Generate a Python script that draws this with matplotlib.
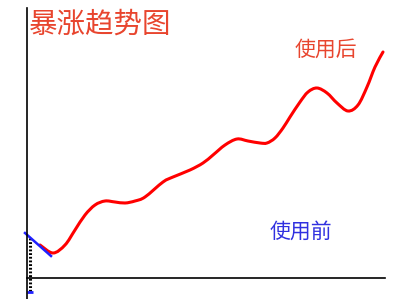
import matplotlib.pyplot as plt
from matplotlib.path import Path
from matplotlib.patches import PathPatch

plt.rcParams['font.family'] = ['Noto Sans CJK SC', 'DejaVu Sans']

# 使用后 (after) curve
after_x = [13, 26, 38, 48, 58, 68, 78, 88, 98, 108, 118, 136, 146, 163, 176, 186,
           198, 210, 221, 233, 240, 248, 256, 263, 273, 281, 290, 300, 310, 321,
           331, 340, 348, 356]
after_y = [33, 25, 33, 48, 63, 73, 77, 76, 75, 77, 81, 96, 101, 108, 115, 123,
           133, 139, 137, 135, 135, 140, 150, 161, 176, 186, 190, 185, 175, 167,
           173, 191, 211, 226]

# 使用前 (before) line
before_x = [-2, 24]
before_y = [45, 22]
mark_x = [3, 3]
mark_y = [40, -14]


def smooth_path(xs, ys):
    # catmull-rom through the points, drawn as cubic bezier pieces
    pts = list(zip(xs, ys))
    verts = [pts[0]]
    codes = [Path.MOVETO]
    for i in range(len(pts) - 1):
        p0 = pts[i - 1] if i > 0 else pts[i]
        p1 = pts[i]
        p2 = pts[i + 1]
        p3 = pts[i + 2] if i + 2 < len(pts) else pts[i + 1]
        c1 = (p1[0] + (p2[0] - p0[0]) / 6, p1[1] + (p2[1] - p0[1]) / 6)
        c2 = (p2[0] - (p3[0] - p1[0]) / 6, p2[1] - (p3[1] - p1[1]) / 6)
        verts += [c1, c2, p2]
        codes += [Path.CURVE4] * 3
    return Path(verts, codes)


fig = plt.figure(figsize=(4.12, 2.99), dpi=100)
ax = fig.add_axes([0, 0, 1, 1])
ax.set_xlim(-27, 385)
ax.set_ylim(-21, 278)

ax.add_patch(PathPatch(smooth_path(after_x, after_y), facecolor='none',
                       edgecolor='#ff0000', lw=2.2, capstyle='round'))
ax.plot(mark_x, mark_y, color='black', lw=2.2, ls=(0, (0.6, 0.6)))
ax.plot([mark_x[1]], [mark_y[1]], marker='_', color='#2020ff', ms=4, mew=2)
ax.plot(before_x, before_y, color='#2020ff', lw=1.8)

for s in ['top', 'right']:
    ax.spines[s].set_visible(False)
ax.spines['left'].set_position(('data', 0))
ax.spines['bottom'].set_position(('data', 0))
ax.spines['left'].set_bounds(-21, 270)
ax.spines['bottom'].set_bounds(0, 358)
ax.spines['left'].set_linewidth(1.2)
ax.spines['bottom'].set_linewidth(1.2)
ax.set_xticks([])
ax.set_yticks([])
ax.patch.set_alpha(0)

fig.text(29 / 412, 1 - 25 / 299, '暴涨趋势图', color='#e8452e', fontsize=20.5,
         ha='left', va='center')
fig.text(326 / 412, 1 - 50 / 299, '使用后', color='#e8452e', fontsize=15,
         ha='center', va='center')
fig.text(301 / 412, 1 - 232 / 299, '使用前', color='#3030e0', fontsize=15,
         ha='center', va='center')

fig.savefig('out.png', dpi=100)
